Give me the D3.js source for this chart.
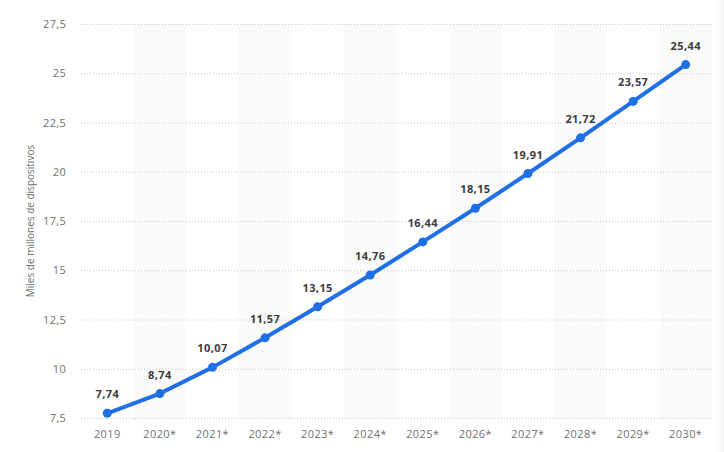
<!DOCTYPE html>
<html>
<head>
<meta charset="utf-8">
<script src="https://cdn.jsdelivr.net/npm/d3@7"></script>
<style>
  body { margin: 0; background: #fff; }
  text { font-family: "Open Sans", sans-serif; }
</style>
</head>
<body>
<div class="canvas"></div>
<script>
// data
const years = ['2019', '2020*', '2021*', '2022*', '2023*', '2024*', '2025*', '2026*', '2027*', '2028*', '2029*', '2030*'];
const devices = [7.74, 8.74, 10.07, 11.57, 13.15, 14.76, 16.44, 18.15, 19.91, 21.72, 23.57, 25.44];
const yTicks = [7.5, 10, 12.5, 15, 17.5, 20, 22.5, 25, 27.5];

const width = 724;
const height = 452;
const margin = { top: 24, right: 12, bottom: 34, left: 81 };
const graphWidth = width - margin.left - margin.right;
const graphHeight = height - margin.top - margin.bottom;

const svg = d3.select('.canvas')
  .append('svg')
  .attr('width', width)
  .attr('height', height);

const graph = svg.append('g')
  .attr('transform', `translate(${margin.left}, ${margin.top})`);

const x = d3.scaleBand()
  .domain(years)
  .range([0, graphWidth])
  .padding(0);

const y = d3.scaleLinear()
  .domain([7.5, 27.5])
  .range([graphHeight, 0]);

const fmt = v => String(v).replace('.', ',');

// alternating background bands
graph.selectAll('rect.band')
  .data(years.filter((d, i) => i % 2 === 1))
  .enter()
  .append('rect')
  .attr('class', 'band')
  .attr('x', d => x(d))
  .attr('y', 0)
  .attr('width', x.bandwidth())
  .attr('height', graphHeight)
  .attr('fill', '#fafafa');

// faint edge on the right
const grad = svg.append('defs').append('linearGradient')
  .attr('id', 'edge');
grad.append('stop').attr('offset', '0%').attr('stop-color', '#fff').attr('stop-opacity', 0);
grad.append('stop').attr('offset', '100%').attr('stop-color', '#f2f2f2');
svg.append('rect')
  .attr('x', width - 10)
  .attr('y', 0)
  .attr('width', 10)
  .attr('height', height)
  .attr('fill', 'url(#edge)');

// y axis with dotted grid
const yAxis = d3.axisLeft(y)
  .tickValues(yTicks)
  .tickSize(-graphWidth)
  .tickFormat(fmt);

const yAxisGroup = graph.append('g').call(yAxis);
yAxisGroup.select('.domain').remove();
yAxisGroup.selectAll('line')
  .attr('stroke', '#c8c8c8')
  .attr('stroke-dasharray', '1,2');
yAxisGroup.selectAll('text')
  .attr('x', -15)
  .attr('fill', '#707070')
  .style('font-size', '11px')
  .style('letter-spacing', '0.3px');

// x axis
const xAxis = d3.axisBottom(x).tickSize(0);
const xAxisGroup = graph.append('g')
  .attr('transform', `translate(0, ${graphHeight})`)
  .call(xAxis);
xAxisGroup.select('.domain').remove();
xAxisGroup.selectAll('text')
  .attr('dy', '0')
  .attr('y', 20)
  .attr('fill', '#707070')
  .style('font-size', '11px')
  .style('letter-spacing', '0.4px');

// y axis title
svg.append('text')
  .attr('transform', `translate(34, ${margin.top + graphHeight / 2}) rotate(-90)`)
  .attr('text-anchor', 'middle')
  .attr('fill', '#707070')
  .style('font-size', '10px')
  .text('Miles de millones de dispositivos');

// the line
const line = d3.line()
  .x((d, i) => x(years[i]) + x.bandwidth() / 2)
  .y(d => y(d));

graph.append('path')
  .datum(devices)
  .attr('d', line)
  .attr('fill', 'none')
  .attr('stroke', '#1f6fe6')
  .attr('stroke-width', 4)
  .attr('stroke-linejoin', 'round')
  .attr('stroke-linecap', 'round');

graph.selectAll('circle')
  .data(devices)
  .enter()
  .append('circle')
  .attr('cx', (d, i) => x(years[i]) + x.bandwidth() / 2)
  .attr('cy', d => y(d))
  .attr('r', 4.5)
  .attr('fill', '#1f6fe6');

// value labels
graph.selectAll('text.value')
  .data(devices)
  .enter()
  .append('text')
  .attr('class', 'value')
  .attr('x', (d, i) => x(years[i]) + x.bandwidth() / 2)
  .attr('y', d => y(d) - 15)
  .attr('text-anchor', 'middle')
  .attr('fill', '#3c3c3c')
  .style('font-size', '11px')
  .style('font-weight', 'bold')
  .style('letter-spacing', '0.4px')
  .text(fmt);
</script>
</body>
</html>
